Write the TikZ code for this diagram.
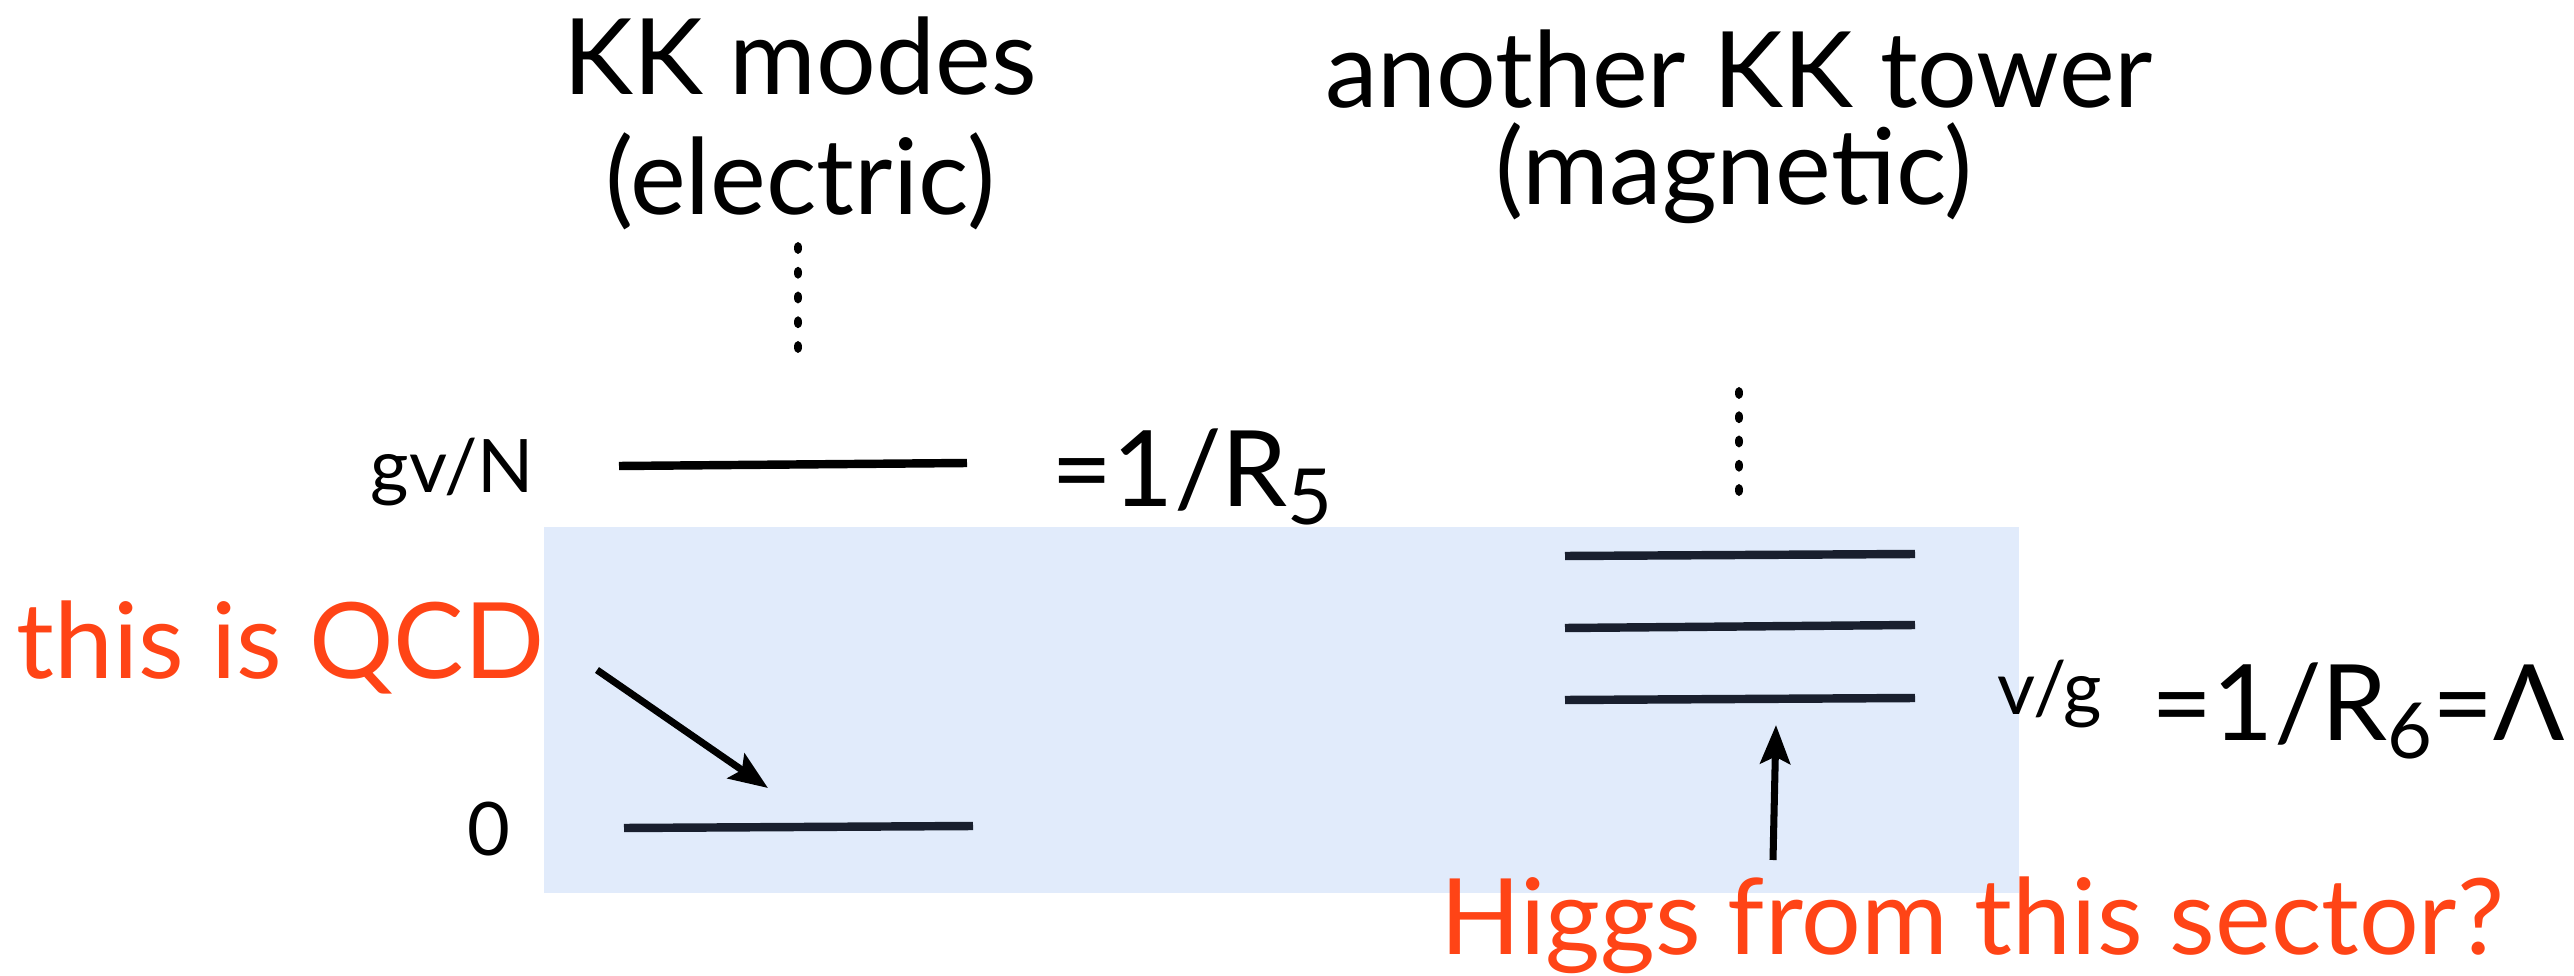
\documentclass[tikz,border=0pt]{standalone}
\usepackage{fontspec}
\setmainfont{Lato}
\usetikzlibrary{arrows.meta}
\definecolor{SlideRed}{RGB}{255,68,22}
\definecolor{SectorBlue}{RGB}{225,235,251}
\definecolor{LevelInk}{RGB}{25,31,46}
\newcommand{\lowsub}[1]{\raisebox{-0.35ex}{\fontsize{22}{22}\selectfont #1}}

\begin{document}
\begin{tikzpicture}[x=0.01cm, y=-0.01cm,
    big/.style={font=\fontsize{30}{30}\selectfont, inner sep=0pt},
    small/.style={font=\fontsize{21}{21}\selectfont, inner sep=0pt},
    level/.style={line width=2.4pt, LevelInk},
    pointer/.style={-{Stealth[length=11pt,width=8.5pt,inset=2pt]}, line width=2pt, black}]
    \useasboundingbox (0,0) rectangle (2574,976);
    % Draw sector background
    \fill[SectorBlue] (544,527) rectangle (2019,893);
    % Draw headings
    \node[big, anchor=base] (kk) at (800,95) {KK modes};
    \node[big, anchor=base] (electric) at (800,215) {(electric)};
    \node[big, anchor=base] (another) at (1739,108) {another KK tower};
    \node[big, anchor=base] (magnetic) at (1734,205) {(magnetic)};
    % Draw tower dots
    \foreach \k in {0,...,4} {
        \fill (798,248+24.75*\k) ellipse (4 and 6);
        \fill (1739,393+24.25*\k) ellipse (4 and 6);
    }
    % Draw electric levels
    \coordinate (e1a) at (619,466); \coordinate (e1b) at (967,463);
    \coordinate (e0a) at (624,828); \coordinate (e0b) at (973,826);
    \draw[level, black] (e1a) -- (e1b);
    \draw[level] (e0a) -- (e0b);
    % Draw magnetic levels
    \coordinate (m3a) at (1565,556); \coordinate (m3b) at (1915,554);
    \coordinate (m2a) at (1565,628); \coordinate (m2b) at (1915,625);
    \coordinate (m1a) at (1565,700); \coordinate (m1b) at (1915,698);
    \draw[level] (m3a) -- (m3b);
    \draw[level] (m2a) -- (m2b);
    \draw[level] (m1a) -- (m1b);
    % Draw scale labels
    \node[small, anchor=base east] (gvn) at (535,493) {gv/N};
    \node[small, anchor=base east] (zero) at (511,855) {0};
    \node[small, anchor=base west] (vg) at (1997,715) {v/g};
    \node[big, anchor=base west] (rfive) at (1051,506) {=1/R\lowsub{5}};
    \node[big, anchor=base west] (rsix) at (2151,740) {=1/R\lowsub{6}=Λ};
    % Draw remarks
    \node[big, anchor=base east, text=SlideRed] (qcd) at (545,678) {this is QCD};
    \node[big, anchor=base west, text=SlideRed] (higgs) at (1440,954) {Higgs from this sector?};
    \coordinate (qcdtail) at (597,670); \coordinate (qcdtip) at (768,788);
    \coordinate (higgstail) at (1773,860); \coordinate (higgstip) at (1776,725);
    \draw[pointer] (qcdtail) -- (qcdtip);
    \draw[pointer] (higgstail) -- (higgstip);
\end{tikzpicture}
\end{document}
